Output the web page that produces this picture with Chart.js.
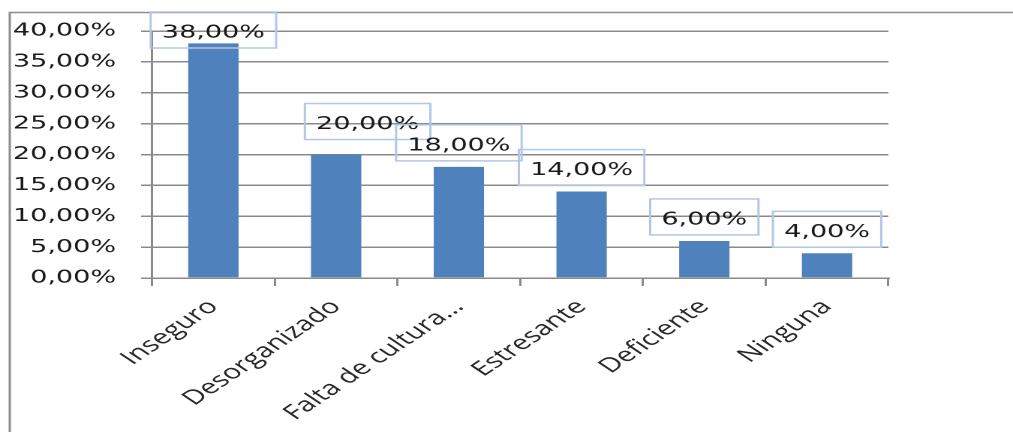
<!DOCTYPE html>
<html><head><meta charset="utf-8">
<script src="https://cdn.jsdelivr.net/npm/chart.js@4.4.1/dist/chart.umd.min.js"></script>
<style>
html,body{margin:0;padding:0;background:#fff;overflow:hidden;}
#wrap{position:absolute;left:0;top:0;width:675px;height:432px;transform:scaleX(1.5007);transform-origin:0 0;}
canvas{display:block;}
</style></head><body>
<div id="wrap"><canvas id="c" width="675" height="432" style="width:675px;height:432px"></canvas></div>
<script>
const categories = ['Inseguro', 'Desorganizado', 'Falta de cultura...', 'Estresante', 'Deficiente', 'Ninguna'];
const values = [38, 20, 18, 14, 6, 4];
const yTickValues = [0, 5, 10, 15, 20, 25, 30, 35, 40];

const fmt = v => v.toFixed(2).replace('.', ',') + '%';
const FONT = '"DejaVu Sans", Verdana, sans-serif';
const CAT_FONT = '"Open Sans", "Liberation Sans", sans-serif';
const GRID = '#8a8a8a';

const framePlugin = {
  id: 'frame',
  beforeDraw(chart) {
    const ctx = chart.ctx;
    ctx.save();
    ctx.strokeStyle = '#8c8c8c';
    ctx.lineWidth = 1.5;
    ctx.beginPath();
    ctx.moveTo(6.5, chart.height);
    ctx.lineTo(6.5, 12.5);
    ctx.lineTo(chart.width, 12.5);
    ctx.stroke();
    ctx.restore();
  }
};

const boxLabelPlugin = {
  id: 'boxLabels',
  afterDatasetsDraw(chart, args, opts) {
    const ctx = chart.ctx;
    const meta = chart.getDatasetMeta(0);
    ctx.save();
    ctx.font = opts.font;
    ctx.textAlign = 'center';
    ctx.textBaseline = 'middle';
    meta.data.forEach((el, i) => {
      const txt = fmt(values[i]);
      const w = ctx.measureText(txt).width + 2 * opts.padX;
      const h = opts.height;
      const off = opts.offsets[i] || [0, 0];
      let top = el.y - opts.gap - h + off[1];
      if (top < opts.minTop) top = opts.minTop;
      const cx = el.x + off[0];
      ctx.strokeStyle = opts.borderColor;
      ctx.lineWidth = opts.borderWidth;
      ctx.strokeRect(cx - w / 2, top, w, h);
      ctx.fillStyle = opts.color;
      ctx.fillText(txt, cx, top + h / 2 + 3);
    });
    ctx.restore();
  }
};

new Chart(document.getElementById('c'), {
  type: 'bar',
  data: {
    labels: categories,
    datasets: [{
      data: values,
      backgroundColor: '#4F81BD',
      borderWidth: 0,
      barPercentage: 0.41,
      categoryPercentage: 1.0
    }]
  },
  options: {
    responsive: false,
    animation: false,
    devicePixelRatio: 2,
    layout: { padding: { top: 31, right: 83, bottom: 0, left: 0 } },
    plugins: {
      legend: { display: false },
      tooltip: { enabled: false },
      boxLabels: {
        font: '18px ' + FONT,
        padX: 7.5,
        height: 36,
        gap: 6,
        minTop: 12,
        borderColor: '#b3c6ea',
        borderWidth: 1.5,
        color: '#1a1a1a',
        offsets: [[0, 0], [21, -9], [0, 0], [0, 0], [0, 0], [0, 0]]
      }
    },
    scales: {
      x: {
        afterFit(scale) { scale.height = 154; },
        grid: { drawOnChartArea: false, drawTicks: true, tickLength: 8, color: GRID, lineWidth: 1.5 },
        border: { display: true, color: GRID, width: 1.5 },
        ticks: {
          autoSkip: false, maxRotation: 45, minRotation: 45,
          color: '#262626', font: { family: CAT_FONT, size: 20 }, padding: 9
        }
      },
      y: {
        min: 0, max: 40,
        afterFit(scale) { scale.width = 101.3; },
        afterBuildTicks(scale) { scale.ticks = yTickValues.map(v => ({ value: v })); },
        grid: { drawOnChartArea: true, drawTicks: true, tickLength: 7.3, color: GRID, lineWidth: 1.5 },
        border: { display: true, color: GRID, width: 1.5 },
        ticks: {
          color: '#1a1a1a', font: { family: FONT, size: 18 }, padding: 16.7,
          callback: v => fmt(v)
        }
      }
    }
  },
  plugins: [framePlugin, boxLabelPlugin]
});
</script>
</body></html>
